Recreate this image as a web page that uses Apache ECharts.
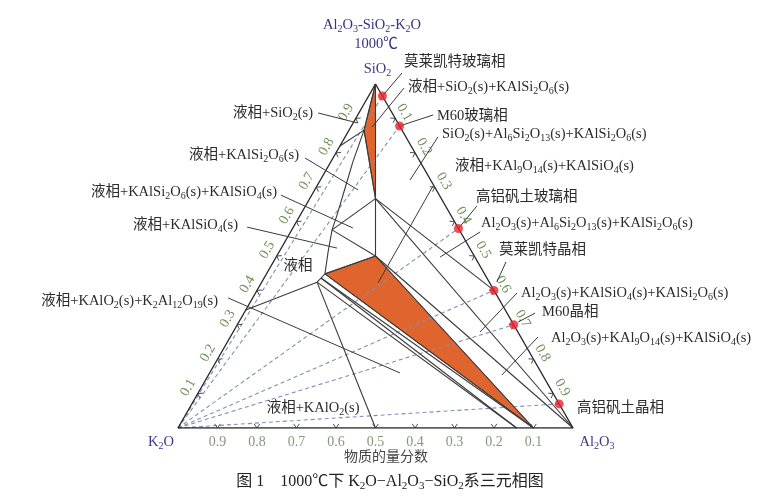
<!DOCTYPE html>
<html><head><meta charset="utf-8">
<script src="https://cdn.jsdelivr.net/npm/echarts@6.0.0/dist/echarts.min.js"></script>
<style>html,body{margin:0;padding:0;background:#fff}#chart{width:781px;height:502px}</style>
</head><body><div id="chart"></div>
<script>
// All compositions are [Al2O3, SiO2] mole fractions; K2O = 1 - Al2O3 - SiO2.
const compoundNames = ['SiO2','Al2O3','K2O','KAlSi2O6','KAlSiO4','KAlO2','K2Al12O19','KAl9O14','Al6Si2O13'];
const compoundComp  = [[0,1],[1,0],[0,0],[1/6,2/3],[0.25,0.5],[0.5,0],[6/7,0],[0.9,0],[0.6,0.4]];
// liquid compositions at invariant points / liquidus ends
const liquidNames = ['Lf','Ld','La','Lc','Lb','Le','Lg'];
const liquidComp  = [[0.038,0.866],[0.102,0.576],[0.148,0.448],[0.144,0.436],[0.140,0.424],[0,0.82],[0,0.343]];
// liquidus boundary of the liquid field
const liquidusCurve = [[0,0.82],[0.038,0.866],[0.056,0.773],[0.077,0.686],[0.093,0.619],[0.102,0.576],[0.124,0.512],[0.148,0.448],[0.144,0.436],[0.140,0.424],[0,0.343]];
// tie lines between phases
const tieLines = [
  ['SiO2','Lf'],['Lf','KAlSi2O6'],['SiO2','KAlSi2O6'],
  ['KAlSi2O6','Ld'],['KAlSiO4','Ld'],['KAlSi2O6','KAlSiO4'],
  ['KAlSiO4','La'],['La','KAl9O14'],['KAlSiO4','KAl9O14'],
  ['Lc','KAl9O14'],['Lc','K2Al12O19'],['Lb','K2Al12O19'],['Lb','KAlO2'],
  ['KAlSi2O6','Al6Si2O13'],['KAlSi2O6','Al2O3'],['KAlSiO4','Al2O3']
];
// shaded three-phase triangles
const shadedRegions = [['SiO2','Lf','KAlSi2O6'],['KAlSiO4','La','KAl9O14']];
// material samples (red points)
const sampleNames = ['莫莱凯特玻璃相','M60玻璃相','高铝矾土玻璃相','莫莱凯特晶相','M60晶相','高铝矾土晶相'];
const sampleComp  = [[0.035,0.965],[0.122,0.878],[0.42,0.58],[0.6,0.4],[0.70,0.30],[0.93,0.07]];
// axis ticks
const tickValues = [0.1,0.2,0.3,0.4,0.5,0.6,0.7,0.8,0.9];
const tickLabels = ['0.1','0.2','0.3','0.4','0.5','0.6','0.7','0.8','0.9'];

// ---- annotation layer (text + leader lines), positions in composition space
const regionLabels = [
  ['莫莱凯特玻璃相',[0.040,1.064],'left'],
  ['液相+SiO_2(s)+KAlSi_2O_6(s)',[0.087,0.991],'left'],
  ['M60玻璃相',[0.202,0.907],'left'],
  ['SiO_2(s)+Al_6Si_2O_13(s)+KAlSi_2O_6(s)',[0.241,0.855],'left'],
  ['液相+KAl_9O_14(s)+KAlSiO_4(s)',[0.3205,0.7616],'left'],
  ['高铝矾土玻璃相',[0.4186,0.6715],'left'],
  ['Al_2O_3(s)+Al_6Si_2O_13(s)+KAlSi_2O_6(s)',[0.469,0.596],'left'],
  ['莫莱凯特晶相',[0.554,0.5174],'left'],
  ['Al_2O_3(s)+KAlSiO_4(s)+KAlSi_2O_6(s)',[0.672,0.3924],'left'],
  ['M60晶相',[0.753,0.3372],'left'],
  ['Al_2O_3(s)+KAl_9O_14(s)+KAlSiO_4(s)',[0.8135,0.2616],'left'],
  ['高铝矾土晶相',[0.981,0.0581],'left'],
  ['液相+SiO_2(s)',[-0.116,0.9157],'right'],
  ['液相+KAlSi_2O_6(s)',[-0.0905,0.7936],'right'],
  ['液相+KAlSi_2O_6(s)+KAlSiO_4(s)',[-0.0924,0.686],'right'],
  ['液相+KAlSiO_4(s)',[-0.143,0.590],'right'],
  ['液相',[0.068,0.471],'center'],
  ['液相+KAlO_2(s)+K_2Al_12O_19(s)',[-0.083,0.369],'right'],
  ['液相+KAlO_2(s)',[0.313,0.058],'center']
];
const leaderLines = [
  [[0.051,1.032],[0.035,0.965]],
  [[0.078,0.988],[0.054,0.875]],
  [[0.191,0.910],[0.122,0.878]],
  [[0.235,0.846],[0.227,0.721]],
  [[0.294,0.7035],[0.2955,0.4215]],
  [[0.434,0.645],[0.42,0.58]],
  [[0.480,0.570],[0.415,0.497]],
  [[0.589,0.4826],[0.595,0.4244]],
  [[0.662,0.3924],[0.625,0.279]],
  [[0.737,0.334],[0.707,0.308]],
  [[0.779,0.2645],[0.743,0.154]],
  [[-0.103,0.9157],[0.012,0.8866]],
  [[-0.071,0.785],[0.110,0.692]],
  [[-0.078,0.677],[0.152,0.5814]],
  [[-0.117,0.584],[0.141,0.523]],
  [[-0.062,0.378],[0.482,0.16]]
];

// ---- helpers
const FONT = "'Liberation Serif','Times New Roman','Noto Sans CJK SC',serif";
const tern = c => [c[0] + c[1] / 2, c[1]];
const P = {};
compoundNames.forEach((n, i) => P[n] = compoundComp[i]);
liquidNames.forEach((n, i) => P[n] = liquidComp[i]);
function rt(s, cls) {
  cls = cls || '';
  return s.split(/(_\d+)/).filter(x => x).map(x => x[0] === '_' ? '{s' + cls + '|' + x.slice(1) + '}' : '{n' + cls + '|' + x + '}').join('');
}
function richFor(size, sub) {
  return {
    n: {fontSize: size, fontFamily: FONT, lineHeight: 18, verticalAlign: 'middle'},
    s: {fontSize: sub, fontFamily: FONT, lineHeight: 10, verticalAlign: 'bottom'}
  };
}
const RICH = richFor(14.5, 10);

function segSeries(segs, style, z) {
  return {
    type: 'custom', coordinateSystem: 'cartesian2d', silent: true, z: z,
    data: segs.map(s => tern(s[0]).concat(tern(s[1]))),
    renderItem: (params, api) => {
      const a = api.coord([api.value(0), api.value(1)]);
      const b = api.coord([api.value(2), api.value(3)]);
      return {type: 'line', shape: {x1: a[0], y1: a[1], x2: b[0], y2: b[1]}, style: style};
    }
  };
}

const series = [];
// shaded regions
series.push({
  type: 'custom', coordinateSystem: 'cartesian2d', silent: true, z: 1,
  data: shadedRegions.map((r, i) => [i]),
  renderItem: (params, api) => {
    const pts = shadedRegions[params.dataIndex].map(n => api.coord(tern(P[n])));
    return {type: 'polygon', shape: {points: pts}, style: {fill: '#e0642e', stroke: '#3a3a3a', lineWidth: 0.8}};
  }
});
// dashed lines from K2O to samples
series.push(segSeries(sampleComp.map(c => [P.K2O, c]), {stroke: '#868db8', lineWidth: 1.1, lineDash: [4, 3]}, 2));
// tie lines
series.push(segSeries(tieLines.map(t => [P[t[0]], P[t[1]]]), {stroke: '#3a3a3a', lineWidth: 1.1}, 3));
// liquidus
series.push({
  type: 'line', data: liquidusCurve.map(tern), showSymbol: false, symbol: 'none', silent: true, z: 3,
  lineStyle: {color: '#3a3a3a', width: 1.1}, animation: false
});
// triangle edges
series.push({
  type: 'line', data: [P.K2O, P.Al2O3, P.SiO2, P.K2O].map(tern), showSymbol: false, symbol: 'none', silent: true, z: 4,
  lineStyle: {color: '#2a2a2a', width: 1.4}, animation: false
});
// ticks (chevrons) and tick labels on the three sides
const sides = [
  {pos: v => [1 - v, 0], inward: [0, -1], label: [0, 14], rot: 0, color: '#8a977a'},
  {pos: v => [0, v], inward: [0.866, 0.5], label: [-9.5, -6], rot: Math.PI / 3, color: '#6f8f55'},
  {pos: v => [v, 1 - v], inward: [-0.866, 0.5], label: [9, -6], rot: -Math.PI / 3, color: '#6f8f55'}
];
const tickItems = [];
sides.forEach((s, si) => tickValues.forEach((v, i) => tickItems.push([si, i])));
series.push({
  type: 'custom', coordinateSystem: 'cartesian2d', silent: true, z: 5,
  data: tickItems.map(t => tern(sides[t[0]].pos(tickValues[t[1]]))),
  renderItem: (params, api) => {
    const t = tickItems[params.dataIndex];
    const s = sides[t[0]];
    const p = api.coord([api.value(0), api.value(1)]);
    const L = 5, ca = Math.cos(0.6), sa = Math.sin(0.6);
    const [nx, ny] = s.inward;
    const a1 = [p[0] + L * (nx * ca - ny * sa), p[1] + L * (nx * sa + ny * ca)];
    const a2 = [p[0] + L * (nx * ca + ny * sa), p[1] + L * (-nx * sa + ny * ca)];
    return {type: 'group', children: [
      {type: 'polyline', shape: {points: [a1, p, a2]}, style: {stroke: '#3a3a3a', lineWidth: 0.9, fill: null}},
      {type: 'text', x: p[0] + s.label[0], y: p[1] + s.label[1], rotation: s.rot,
        style: {text: tickLabels[t[1]], fill: s.color, fontSize: 14, fontFamily: FONT, align: 'center', verticalAlign: 'middle'}}
    ]};
  }
});
// leader lines
series.push(segSeries(leaderLines, {stroke: '#3a3a3a', lineWidth: 1.0}, 6));
// samples
series.push({
  type: 'scatter', data: sampleComp.map(tern), symbolSize: 9, silent: true, z: 7,
  itemStyle: {color: '#e8232b'}, animation: false
});
// region labels
series.push({
  type: 'custom', coordinateSystem: 'cartesian2d', silent: true, z: 8,
  data: regionLabels.map(l => tern(l[1])),
  renderItem: (params, api) => {
    const l = regionLabels[params.dataIndex];
    const p = api.coord([api.value(0), api.value(1)]);
    return {type: 'text', x: p[0], y: p[1],
      style: {text: rt(l[0]), rich: RICH, fill: '#2b2b2b', fontSize: 14.5, fontFamily: FONT, align: l[2], verticalAlign: 'middle'}};
  }
});
// vertex labels
const vertexText = [['K_2O', 'K2O', [-17, 14]], ['Al_2O_3', 'Al2O3', [24, 14]], ['SiO_2', 'SiO2', [2, -15]]];
series.push({
  type: 'custom', coordinateSystem: 'cartesian2d', silent: true, z: 8,
  data: vertexText.map(v => tern(P[v[1]])),
  renderItem: (params, api) => {
    const v = vertexText[params.dataIndex];
    const p = api.coord([api.value(0), api.value(1)]);
    return {type: 'text', x: p[0] + v[2][0], y: p[1] + v[2][1],
      style: {text: rt(v[0]), rich: RICH, fill: '#3a3a88', fontSize: 14.5, fontFamily: FONT, align: 'center', verticalAlign: 'middle'}};
  }
});

const chart = echarts.init(document.getElementById('chart'), null, {renderer: 'canvas'});
chart.setOption({
  animation: false,
  backgroundColor: '#fff',
  grid: {left: 178, top: 84, width: 395, height: 344, containLabel: false},
  xAxis: {type: 'value', min: 0, max: 1, show: false},
  yAxis: {type: 'value', min: 0, max: 1, show: false},
  series: series,
  graphic: [
    {type: 'text', style: {text: rt('Al_2O_3-SiO_2-K_2O'), x: 372, y: 25, rich: RICH, fill: '#33337f', fontSize: 14.5, fontFamily: FONT, align: 'center', verticalAlign: 'middle'}},
    {type: 'text', style: {text: '1000℃', x: 376, y: 44, fill: '#33337f', fontSize: 14.5, fontFamily: FONT, align: 'center', verticalAlign: 'middle'}},
    {type: 'text', style: {text: '物质的量分数', x: 386, y: 457, fill: '#444', fontSize: 14, fontFamily: FONT, align: 'center', verticalAlign: 'middle'}},
    {type: 'text', style: {text: rt('图 1    1000℃下 K_2O−Al_2O_3−SiO_2系三元相图', 'c'), x: 390, y: 482, rich: {
      nc: {fontSize: 16, fontFamily: FONT, lineHeight: 20, verticalAlign: 'middle'},
      sc: {fontSize: 11, fontFamily: FONT, lineHeight: 11, verticalAlign: 'bottom'}
    }, fill: '#222', align: 'center', verticalAlign: 'middle'}}
  ]
});
</script></body></html>
